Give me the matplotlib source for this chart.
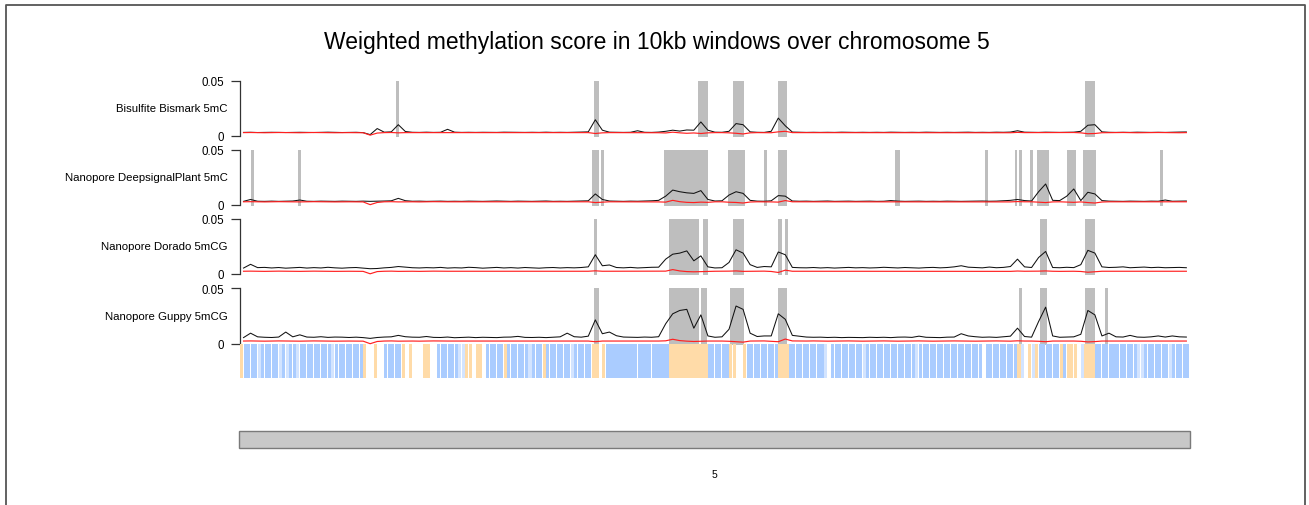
import numpy as np
import matplotlib.pyplot as plt
from matplotlib.patches import Rectangle
from matplotlib.lines import Line2D

plt.rcParams['font.family'] = ['Liberation Sans', 'DejaVu Sans']

# chromosome 5, positions in Mb
chrom_len = 26.975
chrom_name = "5"
window_mid = np.arange(135) * 0.2 + 0.1

track_names = ["Bisulfite Bismark 5mC", "Nanopore DeepsignalPlant 5mC",
               "Nanopore Dorado 5mCG", "Nanopore Guppy 5mCG"]

# weighted scores (x1000), one value per 200kb step
bismark_line = [
    3.0, 3.1, 2.9, 3.0, 3.1, 3.0, 2.9, 3.0, 3.1, 3.0, 2.9, 3.0, 3.2, 3.0, 2.9,
    3.0, 3.1, 2.8, 1.0, 6.5, 3.2, 3.5, 10.0, 3.8, 3.1, 3.0, 3.2, 3.0, 3.1, 5.8,
    3.2, 3.0, 3.1, 3.0, 3.1, 3.0, 3.0, 3.2, 3.1, 3.0, 3.0, 3.1, 3.0, 3.2, 3.0,
    3.1, 3.0, 3.1, 3.3, 3.5, 14.5, 5.0, 3.2, 3.1, 3.0, 3.1, 4.5, 3.1, 3.0, 3.3,
    4.0, 5.0, 4.2, 5.2, 5.0, 12.5, 5.0, 3.2, 3.1, 4.0, 11.0, 10.0, 3.5, 3.1, 3.0,
    4.0, 16.0, 9.0, 3.3, 3.1, 3.0, 3.1, 3.0, 3.1, 3.0, 3.2, 3.1, 3.0, 3.1, 3.0,
    3.1, 3.0, 3.2, 3.1, 3.0, 3.1, 3.0, 3.2, 3.1, 3.0, 3.1, 3.0, 3.1, 3.2, 3.0,
    3.1, 3.0, 3.2, 3.1, 3.3, 4.5, 3.2, 3.1, 3.0, 3.2, 3.1, 3.0, 3.1, 3.2, 4.0,
    9.5, 10.0, 3.5, 3.1, 3.0, 3.1, 3.0, 3.2, 3.1, 3.0, 3.1, 3.0, 3.2, 3.3, 3.4,
]
bismark_base = [
    2.8, 2.9, 2.8, 2.7, 2.8, 2.9, 2.8, 2.8, 2.7, 2.8, 2.9, 2.8, 2.8, 2.7, 2.8,
    2.8, 2.8, 2.7, 0.5, 2.4, 2.8, 2.9, 2.6, 2.8, 2.8, 2.7, 2.8, 2.9, 2.8, 2.8,
    2.8, 2.7, 2.8, 2.8, 2.9, 2.8, 2.7, 2.8, 2.8, 2.9, 2.8, 2.7, 2.8, 2.8, 2.8,
    2.8, 2.9, 2.8, 2.7, 2.8, 2.0, 2.6, 2.8, 2.8, 2.7, 2.8, 2.9, 2.8, 2.8, 2.7,
    2.5, 3.2, 2.6, 2.2, 2.5, 2.0, 2.6, 2.8, 2.8, 2.6, 2.2, 1.6, 2.6, 2.8, 2.8,
    2.7, 3.5, 4.0, 2.8, 2.8, 2.9, 2.8, 2.7, 2.8, 2.8, 2.9, 2.8, 2.7, 2.8, 2.8,
    2.8, 2.9, 2.8, 2.7, 2.8, 2.8, 2.9, 2.8, 2.7, 2.8, 2.8, 2.9, 2.8, 2.8, 2.7,
    2.8, 2.8, 2.9, 2.8, 2.7, 3.0, 2.8, 2.8, 2.9, 2.8, 2.7, 2.8, 2.8, 2.9, 2.6,
    1.8, 2.0, 2.7, 2.8, 2.8, 2.9, 2.8, 2.7, 2.8, 2.8, 2.9, 2.8, 2.8, 2.7, 2.8,
]
deepsignal_line = [
    3.3, 5.0, 3.4, 3.3, 3.5, 3.3, 3.4, 3.6, 4.5, 3.4, 3.3, 3.5, 3.4, 3.3, 3.5,
    3.4, 3.3, 3.5, 3.3, 3.4, 3.6, 3.8, 6.0, 3.9, 3.4, 3.5, 3.3, 3.4, 3.5, 3.3,
    3.4, 3.3, 3.5, 3.4, 3.3, 3.5, 3.6, 3.4, 3.3, 3.5, 3.4, 3.3, 3.4, 3.6, 3.3,
    3.4, 3.3, 3.5, 3.6, 3.8, 10.0, 5.0, 3.6, 3.4, 3.3, 3.5, 3.4, 3.6, 3.8, 4.2,
    8.0, 13.5, 12.0, 11.0, 10.5, 13.0, 5.0, 3.6, 3.8, 9.0, 12.0, 10.5, 4.2, 3.5, 3.4,
    3.8, 8.5, 8.0, 3.6, 3.4, 3.5, 3.3, 3.4, 3.6, 3.3, 3.4, 3.5, 3.3, 3.4, 3.5,
    3.3, 3.4, 4.0, 3.5, 3.3, 3.4, 3.5, 3.3, 3.4, 3.3, 3.5, 3.4, 3.3, 3.4, 3.5,
    3.6, 3.4, 3.5, 3.8, 4.2, 5.0, 4.0, 3.6, 12.0, 19.0, 4.2, 4.0, 8.0, 14.5, 4.0,
    11.5, 10.0, 4.0, 3.5, 3.4, 3.3, 3.5, 3.4, 3.3, 3.5, 3.4, 4.5, 3.4, 3.5, 3.6,
]
deepsignal_base = [
    2.9, 3.0, 2.9, 2.8, 2.9, 3.0, 2.9, 2.9, 2.8, 2.9, 3.0, 2.9, 2.9, 2.8, 2.9,
    2.9, 2.9, 2.8, 0.3, 2.3, 2.9, 3.0, 2.8, 2.9, 2.9, 2.8, 2.9, 3.0, 2.9, 2.9,
    2.9, 2.8, 2.9, 2.9, 3.0, 2.9, 2.8, 2.9, 2.9, 3.0, 2.9, 2.8, 2.9, 2.9, 2.9,
    2.9, 3.0, 2.9, 2.8, 2.9, 2.2, 2.6, 2.9, 2.9, 2.8, 2.9, 3.0, 2.9, 2.9, 2.8,
    2.6, 4.2, 3.0, 2.4, 2.2, 2.6, 2.4, 2.9, 2.9, 2.5, 2.3, 1.8, 2.7, 2.9, 2.9,
    2.8, 2.6, 4.0, 2.9, 2.9, 3.0, 2.9, 2.8, 2.9, 2.9, 3.0, 2.9, 2.8, 2.9, 2.9,
    2.9, 3.0, 2.9, 2.8, 2.9, 2.9, 3.0, 2.9, 2.8, 2.9, 2.9, 3.0, 2.9, 2.9, 2.8,
    2.9, 2.9, 3.0, 2.9, 2.8, 3.1, 2.9, 2.9, 2.5, 2.2, 2.8, 2.9, 2.6, 2.4, 2.8,
    2.2, 1.8, 2.7, 2.9, 2.9, 3.0, 2.9, 2.8, 2.9, 2.9, 3.0, 2.9, 2.9, 2.8, 2.9,
]
dorado_line = [
    5.4, 8.8, 5.8, 6.0, 5.5, 5.9, 5.3, 5.7, 6.0, 5.4, 5.8, 5.5, 6.1, 5.6, 5.3,
    5.7, 5.9, 5.4, 4.8, 5.0, 5.6, 6.0, 6.8, 6.2, 5.7, 5.5, 5.8, 5.6, 6.0, 5.4,
    5.7, 5.5, 6.1, 5.8, 5.3, 5.7, 6.0, 5.5, 5.8, 5.4, 5.9, 5.6, 5.3, 5.7, 5.9,
    5.5, 5.8, 5.6, 5.9, 6.5, 17.5, 7.5, 8.2, 5.9, 5.6, 6.0, 5.5, 5.8, 6.1, 6.2,
    13.5, 18.0, 19.0, 21.0, 12.0, 16.5, 6.5, 5.5, 5.7, 10.5, 22.0, 19.0, 8.5, 6.0, 6.8,
    6.5, 20.0, 17.5, 6.0, 5.7, 5.6, 5.9, 5.5, 5.8, 5.4, 5.7, 6.0, 5.6, 5.8, 5.5,
    5.7, 6.1, 5.8, 5.5, 5.9, 5.7, 5.4, 5.8, 6.0, 5.6, 5.9, 6.5, 7.5, 6.2, 5.9,
    5.6, 6.3, 5.7, 6.0, 6.8, 13.5, 6.5, 5.9, 15.0, 20.5, 5.9, 5.7, 6.1, 5.8, 8.5,
    21.5, 19.0, 6.5, 5.9, 6.1, 6.5, 5.7, 6.0, 6.3, 5.8, 6.1, 5.7, 5.9, 6.0, 5.7,
]
dorado_base = [
    2.5, 2.6, 2.5, 2.4, 2.5, 2.6, 2.5, 2.5, 2.4, 2.5, 2.6, 2.5, 2.5, 2.4, 2.5,
    2.5, 2.5, 2.4, 0.2, 2.2, 2.5, 2.6, 2.4, 2.5, 2.5, 2.4, 2.5, 2.6, 2.5, 2.5,
    2.5, 2.6, 2.5, 2.4, 2.5, 2.6, 2.5, 2.5, 2.4, 2.5, 2.6, 2.5, 2.5, 2.4, 2.5,
    2.5, 2.6, 2.5, 2.4, 2.5, 2.9, 2.5, 2.5, 2.6, 2.5, 2.4, 2.5, 2.5, 2.6, 2.5,
    2.6, 4.0, 2.8, 2.2, 2.0, 2.2, 2.4, 2.5, 2.5, 2.6, 2.8, 2.4, 2.5, 2.5, 2.6,
    2.3, 1.4, 3.5, 2.5, 2.5, 2.6, 2.5, 2.4, 2.5, 2.5, 2.6, 2.5, 2.4, 2.5, 2.5,
    2.5, 2.6, 2.5, 2.4, 2.5, 2.5, 2.6, 2.5, 2.4, 2.5, 2.5, 2.6, 2.5, 2.5, 2.4,
    2.5, 2.5, 2.6, 2.5, 2.4, 2.7, 2.5, 2.5, 2.6, 2.8, 2.5, 2.4, 2.5, 2.5, 2.3,
    1.6, 2.0, 2.5, 2.5, 2.6, 2.5, 2.4, 2.5, 2.5, 2.6, 2.5, 2.5, 2.4, 2.5, 2.5,
]
guppy_line = [
    5.5, 9.5, 6.2, 5.8, 5.6, 6.0, 10.5, 6.2, 8.0, 6.0, 5.8, 6.3, 5.7, 6.0, 5.9,
    5.6, 5.9, 5.5, 4.8, 5.6, 6.0, 6.2, 7.5, 6.3, 5.9, 5.8, 6.5, 5.7, 5.6, 6.0,
    5.4, 5.6, 5.9, 5.5, 5.8, 5.6, 5.5, 5.9, 6.0, 6.6, 5.7, 5.6, 5.8, 5.5, 5.9,
    6.2, 9.5, 6.3, 5.9, 6.8, 21.5, 9.0, 10.5, 7.2, 6.0, 5.8, 5.7, 6.0, 5.8, 6.3,
    18.0, 27.0, 30.0, 31.0, 14.0, 26.0, 7.0, 5.8, 6.2, 13.0, 34.0, 31.0, 9.5, 6.5, 7.0,
    7.0, 27.0, 22.0, 7.5, 6.8, 6.0, 5.8, 5.9, 5.6, 5.8, 5.5, 5.7, 5.6, 5.5, 5.8,
    5.6, 5.8, 5.5, 5.9, 6.0, 5.7, 6.8, 5.8, 5.6, 5.5, 5.9, 6.0, 9.0, 7.0, 6.3,
    5.8, 6.0, 5.7, 6.2, 6.8, 14.0, 6.5, 5.9, 20.0, 33.0, 7.0, 5.8, 6.0, 6.2, 8.5,
    30.0, 26.0, 7.0, 9.5, 6.2, 6.0, 7.5, 6.0, 5.8, 6.2, 7.0, 6.0, 7.0, 6.2, 6.0,
]
guppy_base = [
    2.4, 2.5, 2.4, 2.3, 2.4, 2.5, 2.4, 2.4, 2.3, 2.4, 2.5, 2.4, 2.4, 2.3, 2.4,
    2.4, 2.4, 2.3, 0.0, 2.0, 2.4, 2.5, 2.3, 2.4, 2.4, 2.3, 2.4, 2.5, 2.4, 2.4,
    2.4, 2.3, 2.4, 2.4, 2.5, 2.4, 2.3, 2.4, 2.4, 2.5, 2.4, 2.3, 2.4, 2.4, 2.4,
    2.4, 2.5, 2.4, 2.3, 2.4, 1.8, 2.4, 2.4, 2.5, 2.4, 2.3, 2.4, 2.4, 2.5, 2.4,
    2.6, 4.0, 2.8, 2.3, 2.0, 2.2, 2.4, 2.4, 2.4, 2.2, 1.8, 1.4, 2.4, 2.4, 2.5,
    2.2, 1.8, 4.2, 2.5, 2.4, 2.4, 2.5, 2.4, 2.3, 2.4, 2.4, 2.5, 2.4, 2.3, 2.4,
    2.4, 2.5, 2.4, 2.3, 2.4, 2.4, 2.5, 2.4, 2.3, 2.4, 2.4, 2.5, 2.4, 2.4, 2.3,
    2.4, 2.4, 2.5, 2.4, 2.3, 2.6, 2.4, 2.4, 2.2, 1.8, 2.4, 2.4, 2.3, 2.4, 2.2,
    1.6, 1.9, 2.4, 2.4, 2.5, 2.4, 2.3, 2.4, 2.4, 2.5, 2.4, 2.4, 2.3, 2.4, 2.4,
]

# significant regions (start, end) in Mb
bismark_bands = [(4.44, 4.53), (10.06, 10.20), (13.02, 13.30), (14.02, 14.33),
                 (15.30, 15.56), (24.02, 24.30)]
deepsignal_bands = [(0.31, 0.40), (1.65, 1.74), (10.00, 10.20), (10.26, 10.34),
                    (12.05, 13.30), (13.87, 14.36), (14.90, 14.99), (15.30, 15.56),
                    (18.63, 18.75), (21.17, 21.25), (22.02, 22.08), (22.14, 22.22),
                    (22.45, 22.54), (22.65, 22.99), (23.50, 23.76), (23.96, 24.33),
                    (26.15, 26.24)]
dorado_bands = [(10.06, 10.14), (12.19, 13.05), (13.16, 13.30), (14.02, 14.33),
                (15.30, 15.41), (15.50, 15.58), (22.74, 22.93), (24.02, 24.30)]
guppy_bands = [(10.06, 10.20), (12.19, 13.05), (13.11, 13.28), (13.93, 14.33),
               (15.30, 15.56), (22.14, 22.22), (22.74, 22.93), (24.02, 24.30),
               (24.59, 24.67)]

# annotation per 100kb bin: b/B gene (striped/solid), c pale gene, o/O TE, w empty
stripe_codes = "".join([
    "obbbbcbbbb", "bcbcbbcbbb", "bbbbbbcbbb", "bbbbbowwow", "wbbbbbowow",
    "wwOOwwbbbb", "bbccoowoow", "bbbbbobbbb", "bbcbbbobbb", "bbbbcbbbbb",
    "OOwoBBBBBB", "BBbBBBbBBB", "BBOOOOOOOO", "OoObbbbbbo", "owwobbbbbb",
    "bbbOOObbbb", "bbbbbbcwbb", "bbbbbbbcbb", "bbbbbbbbbb", "bbcbbbbbbb",
    "bbbbbbbbbb", "bwbbbbbbbb", "bOcwocobbb", "bbbObooowc", "OOObbbbbbb",
    "bbbbbccbbb", "bbbbcbbbbb",
])

tracks = [
    (bismark_line, bismark_base, bismark_bands),
    (deepsignal_line, deepsignal_base, deepsignal_bands),
    (dorado_line, dorado_base, dorado_bands),
    (guppy_line, guppy_base, guppy_bands),
]

W, H = 1309, 506
fig = plt.figure(figsize=(W / 100, H / 100), dpi=100)


def px_axes(x0, y0, x1, y1):
    return fig.add_axes([x0 / W, 1 - y1 / H, (x1 - x0) / W, (y1 - y0) / H])


fig.text(657 / W, 1 - 42 / H,
         "Weighted methylation score in 10kb windows over chromosome " + chrom_name,
         ha='center', va='center', fontsize=16.5)

track_px = [(81.7, 136.7), (150.7, 206.0), (220.0, 275.0), (289.3, 344.7)]

for name, (line, base, bands), (top, bot) in zip(track_names, tracks, track_px):
    ax = px_axes(240, top, 1189, bot)
    ax.set_xlim(0, chrom_len)
    ax.set_ylim(0, 0.05)
    for s, e in bands:
        ax.axvspan(s, e, ymin=-0.025, ymax=1, color='#BEBEBE', lw=0, clip_on=False)
    ax.plot(window_mid, np.array(line) / 1000, color='#111111', lw=0.75, clip_on=False)
    ax.plot(window_mid, np.array(base) / 1000, color='#FF2020', lw=0.85, clip_on=False)
    for sp in ['top', 'right', 'bottom']:
        ax.spines[sp].set_visible(False)
    ax.spines['left'].set_color('#333333')
    ax.spines['left'].set_linewidth(0.9)
    ax.set_xticks([])
    ax.set_yticks([0, 0.05])
    ax.set_yticklabels(['0', '0.05'])
    ax.tick_params(axis='y', length=6.2, width=0.9, pad=5.5, labelsize=8.3, color='#333333')
    ax.patch.set_visible(False)
    fig.text(227.7 / W, 1 - (top + bot) / 2 / H, name, ha='right', va='center', fontsize=8.2)

# gene / TE annotation strip
axs = px_axes(240, 344.7, 1189, 379.3)
axs.set_xlim(0, chrom_len)
axs.set_ylim(0, 1)
axs.axis('off')
stripe_colors = {'b': '#AACCFF', 'B': '#AACCFF', 'c': '#D3E4FF', 'o': '#FFDBA8', 'O': '#FFDBA8'}
for i, code in enumerate(stripe_codes):
    if code == 'w':
        continue
    width = 0.1 if code.isupper() else 0.086
    axs.bar(i * 0.1, 1, width=width, align='edge', color=stripe_colors[code], lw=0)

# chromosome ideogram
axi = px_axes(239, 432, 1190, 449)
axi.set_xlim(0, chrom_len)
axi.set_ylim(0, 1)
axi.axis('off')
axi.add_patch(Rectangle((0, 0), chrom_len, 1, facecolor='#C8C8C8', edgecolor='#7A7A7A',
                        lw=1.0, clip_on=False))
fig.text(714 / W, 1 - 475 / H, chrom_name, ha='center', va='center', fontsize=7.5)

# outer frame
fig.add_artist(Line2D([6 / W, 6 / W, 1305 / W, 1305 / W], [0, 1 - 6 / H, 1 - 6 / H, 0],
                      color='#555555', lw=1.3))

fig.savefig('out.png', dpi=100)
